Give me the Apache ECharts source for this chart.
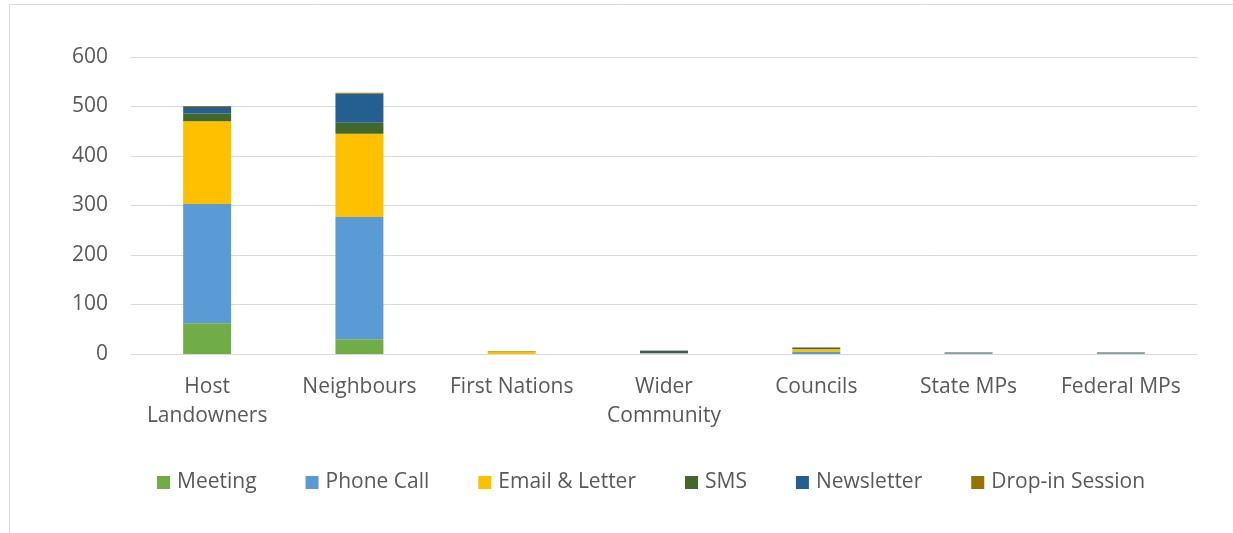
<!DOCTYPE html>
<html>
<head>
<meta charset="utf-8">
<script src="https://cdn.jsdelivr.net/npm/echarts@6/dist/echarts.min.js"></script>
<style>html,body{margin:0;padding:0;background:#fff}#c{width:1233px;height:533px}</style>
</head>
<body>
<div id="c"></div>
<script>
const categories = ['Host\nLandowners', 'Neighbours', 'First Nations', 'Wider\nCommunity', 'Councils', 'State MPs', 'Federal MPs'];
const meeting    = [62, 30, 0, 0, 0, 0, 0];
const phoneCall  = [241, 247, 0, 1, 4, 0, 0];
const emailLetter= [167, 168, 5, 1, 6, 1, 1];
const sms        = [16, 22, 0, 0, 0, 0, 0];
const newsletter = [13, 59, 0, 4, 3, 2, 2];
const dropIn     = [2, 2, 1, 1, 0, 0, 0];
const yTicks = [0, 100, 200, 300, 400, 500, 600];

const seriesDefs = [
  ['Meeting', meeting, '#70AD47'],
  ['Phone Call', phoneCall, '#5B9BD5'],
  ['Email & Letter', emailLetter, '#FFC000'],
  ['SMS', sms, '#43682B'],
  ['Newsletter', newsletter, '#255E91'],
  ['Drop-in Session', dropIn, '#997300']
];
const FONT = 'Open Sans';
const chart = echarts.init(document.getElementById('c'), null, {renderer: 'canvas'});
chart.setOption({
  animation: false,
  backgroundColor: '#fff',
  graphic: [{
    type: 'rect', left: 7, top: 2,
    shape: {width: 1300, height: 600},
    style: {fill: 'none', stroke: '#d9d9d9', lineWidth: 1}, silent: true
  }],
  grid: {left: 131, right: 36, top: 57, bottom: 179},
  legend: {
    left: 152, top: 467,
    itemWidth: 13, itemHeight: 13, itemGap: 49,
    icon: 'rect',
    textStyle: {fontFamily: FONT, fontSize: 21, color: '#595959', padding: [0, 0, 0, 2]},
    data: seriesDefs.map(d => d[0])
  },
  xAxis: {
    type: 'category', data: categories,
    axisLine: {show: true, lineStyle: {color: '#d9d9d9', width: 1}},
    axisTick: {show: false},
    axisLabel: {fontFamily: FONT, fontSize: 21, color: '#595959', margin: 19, lineHeight: 29, interval: 0}
  },
  yAxis: {
    type: 'value', min: yTicks[0], max: yTicks[yTicks.length - 1], interval: 100,
    axisLine: {show: false}, axisTick: {show: false},
    splitLine: {lineStyle: {color: '#d9d9d9', width: 1}},
    axisLabel: {fontFamily: FONT, fontSize: 21, color: '#595959', margin: 23}
  },
  series: seriesDefs.map(d => ({
    name: d[0], type: 'bar', stack: 'total', data: d[1], barWidth: '31.5%',
    itemStyle: {color: d[2]}
  }))
});
</script>
</body>
</html>
